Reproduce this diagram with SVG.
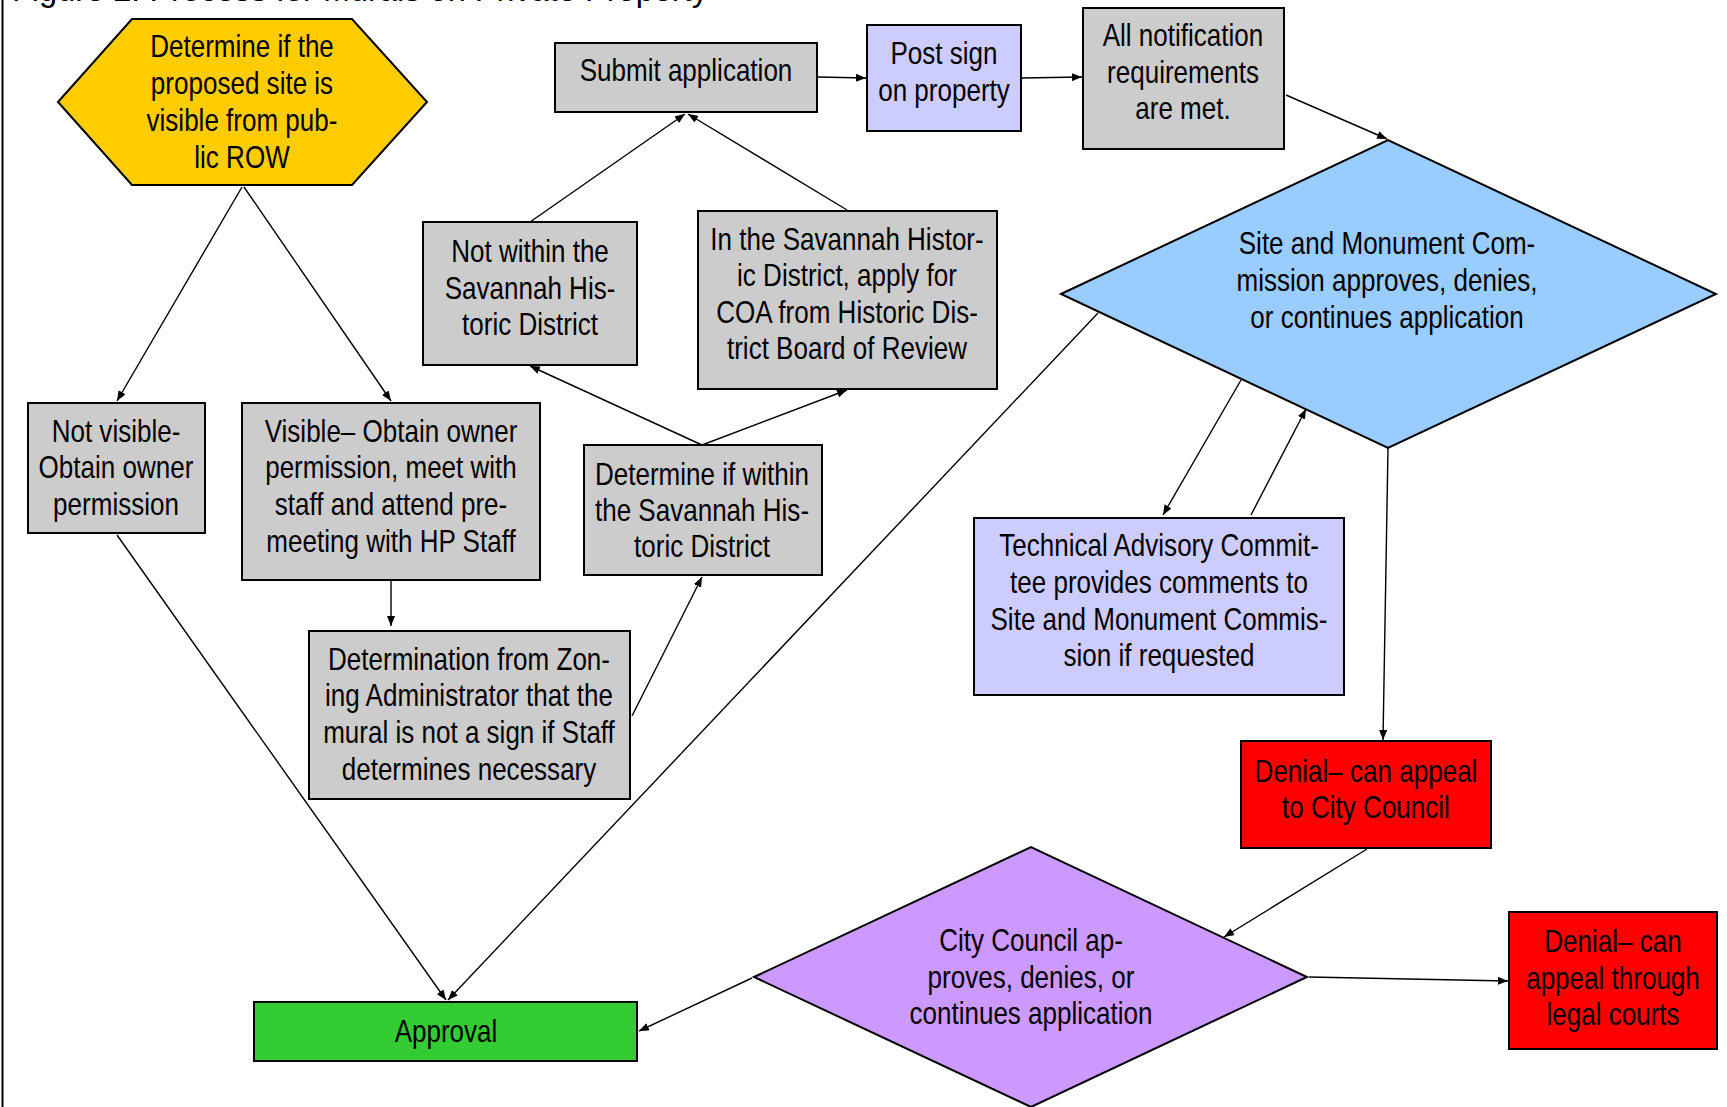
<svg xmlns="http://www.w3.org/2000/svg" width="1727" height="1107" viewBox="0 0 1727 1107">
<style>
.n{stroke:#000;stroke-width:2}
.g{fill:#CCCCCC}
.lv{fill:#CCCCFF}
.t{font-family:"Liberation Sans",Arial,sans-serif;font-size:31px;fill:#000;text-anchor:middle}
.c line{stroke:#000;stroke-width:1.4;marker-end:url(#ah)}
.title{font-family:"Liberation Sans",Arial,sans-serif;font-size:33px;fill:#000}
</style>
<defs>
<marker id="ah" markerUnits="userSpaceOnUse" markerWidth="10" markerHeight="8" refX="10" refY="4" orient="auto">
<path d="M0,0 L10,4 L0,8 z" fill="#000"/>
</marker>
</defs>
<rect width="1727" height="1107" fill="#fff"/>
<line x1="2.5" y1="0" x2="2.5" y2="1107" stroke="#000" stroke-width="2"/>
<text class="title" x="12" y="0.5" textLength="696" lengthAdjust="spacingAndGlyphs">Figure 2: Process for Murals on Private Property</text>

<g class="c" id="connectors">
<line x1="242" y1="187" x2="117" y2="401"/>
<line x1="244" y1="187" x2="391" y2="401"/>
<line x1="391" y1="580" x2="391" y2="626"/>
<line x1="117" y1="535" x2="446" y2="1000"/>
<line x1="632" y1="716" x2="702" y2="577"/>
<line x1="702" y1="445" x2="530" y2="366"/>
<line x1="702" y1="445" x2="847" y2="390"/>
<line x1="530" y1="222" x2="685" y2="114"/>
<line x1="847" y1="210" x2="688" y2="114"/>
<line x1="817" y1="77" x2="866" y2="78"/>
<line x1="1021" y1="78" x2="1082" y2="77"/>
<line x1="1286" y1="95" x2="1387" y2="139"/>
<line x1="1098" y1="313" x2="448" y2="1000"/>
<line x1="1241" y1="380" x2="1163" y2="515"/>
<line x1="1251" y1="515" x2="1306" y2="409"/>
<line x1="1388" y1="448" x2="1383" y2="740"/>
<line x1="1367" y1="849" x2="1224" y2="937"/>
<line x1="752" y1="978" x2="639" y2="1031"/>
<line x1="1309" y1="977" x2="1508" y2="981"/>
</g>

<g id="hex">
<polygon class="n" fill="#FFCC00" points="58,102 132,19 352,19 427,102 352,185 132,185"/>
<text class="t" transform="matrix(0.84 0 0 1 242 0)" x="0" y="57">Determine if the</text>
<text class="t" transform="matrix(0.84 0 0 1 242 0)" x="0" y="94">proposed site is</text>
<text class="t" transform="matrix(0.84 0 0 1 242 0)" x="0" y="131">visible from pub-</text>
<text class="t" transform="matrix(0.84 0 0 1 242 0)" x="0" y="168">lic ROW</text>
</g>

<g id="submit">
<rect class="n g" x="555" y="43" width="262" height="69"/>
<text class="t" transform="matrix(0.84 0 0 1 686 0)" x="0" y="81">Submit application</text>
</g>

<g id="postsign">
<rect class="n lv" x="867" y="25" width="154" height="106"/>
<text class="t" transform="matrix(0.84 0 0 1 944 0)" x="0" y="64">Post sign</text>
<text class="t" transform="matrix(0.84 0 0 1 944 0)" x="0" y="101">on property</text>
</g>

<g id="notif">
<rect class="n g" x="1083" y="8" width="201" height="141"/>
<text class="t" transform="matrix(0.84 0 0 1 1183 0)" x="0" y="46">All notification</text>
<text class="t" transform="matrix(0.84 0 0 1 1183 0)" x="0" y="83">requirements</text>
<text class="t" transform="matrix(0.84 0 0 1 1183 0)" x="0" y="119">are met.</text>
</g>

<g id="smc">
<polygon class="n" fill="#99CCFF" points="1061,294 1388,140 1716,294 1388,448"/>
<text class="t" transform="matrix(0.84 0 0 1 1387 0)" x="0" y="254">Site and Monument Com-</text>
<text class="t" transform="matrix(0.84 0 0 1 1387 0)" x="0" y="291">mission approves, denies,</text>
<text class="t" transform="matrix(0.84 0 0 1 1387 0)" x="0" y="328">or continues application</text>
</g>

<g id="notwithin">
<rect class="n g" x="423" y="222" width="214" height="143"/>
<text class="t" transform="matrix(0.84 0 0 1 530 0)" x="0" y="262">Not within the</text>
<text class="t" transform="matrix(0.84 0 0 1 530 0)" x="0" y="299">Savannah His-</text>
<text class="t" transform="matrix(0.84 0 0 1 530 0)" x="0" y="335">toric District</text>
</g>

<g id="inside">
<rect class="n g" x="698" y="211" width="299" height="178"/>
<text class="t" transform="matrix(0.84 0 0 1 847 0)" x="0" y="250">In the Savannah Histor-</text>
<text class="t" transform="matrix(0.84 0 0 1 847 0)" x="0" y="286">ic District, apply for</text>
<text class="t" transform="matrix(0.84 0 0 1 847 0)" x="0" y="323">COA from Historic Dis-</text>
<text class="t" transform="matrix(0.84 0 0 1 847 0)" x="0" y="359">trict Board of Review</text>
</g>

<g id="notvisible">
<rect class="n g" x="28" y="403" width="177" height="130"/>
<text class="t" transform="matrix(0.84 0 0 1 116 0)" x="0" y="442">Not visible-</text>
<text class="t" transform="matrix(0.84 0 0 1 116 0)" x="0" y="478">Obtain owner</text>
<text class="t" transform="matrix(0.84 0 0 1 116 0)" x="0" y="515">permission</text>
</g>

<g id="visible">
<rect class="n g" x="242" y="403" width="298" height="177"/>
<text class="t" transform="matrix(0.84 0 0 1 391 0)" x="0" y="442">Visible– Obtain owner</text>
<text class="t" transform="matrix(0.84 0 0 1 391 0)" x="0" y="478">permission, meet with</text>
<text class="t" transform="matrix(0.84 0 0 1 391 0)" x="0" y="515">staff and attend pre-</text>
<text class="t" transform="matrix(0.84 0 0 1 391 0)" x="0" y="552">meeting with HP Staff</text>
</g>

<g id="determinewithin">
<rect class="n g" x="584" y="445" width="238" height="130"/>
<text class="t" transform="matrix(0.84 0 0 1 702 0)" x="0" y="485">Determine if within</text>
<text class="t" transform="matrix(0.84 0 0 1 702 0)" x="0" y="521">the Savannah His-</text>
<text class="t" transform="matrix(0.84 0 0 1 702 0)" x="0" y="557">toric District</text>
</g>

<g id="zoning">
<rect class="n g" x="309" y="631" width="321" height="168"/>
<text class="t" transform="matrix(0.84 0 0 1 469 0)" x="0" y="670">Determination from Zon-</text>
<text class="t" transform="matrix(0.84 0 0 1 469 0)" x="0" y="706">ing Administrator that the</text>
<text class="t" transform="matrix(0.84 0 0 1 469 0)" x="0" y="743">mural is not a sign if Staff</text>
<text class="t" transform="matrix(0.84 0 0 1 469 0)" x="0" y="780">determines necessary</text>
</g>

<g id="tac">
<rect class="n lv" x="974" y="518" width="370" height="177"/>
<text class="t" transform="matrix(0.84 0 0 1 1159 0)" x="0" y="556">Technical Advisory Commit-</text>
<text class="t" transform="matrix(0.84 0 0 1 1159 0)" x="0" y="593">tee provides comments to</text>
<text class="t" transform="matrix(0.84 0 0 1 1159 0)" x="0" y="630">Site and Monument Commis-</text>
<text class="t" transform="matrix(0.84 0 0 1 1159 0)" x="0" y="666">sion if requested</text>
</g>

<g id="denial1">
<rect class="n" fill="#FF0000" x="1241" y="741" width="250" height="107"/>
<text class="t" transform="matrix(0.84 0 0 1 1366 0)" x="0" y="782">Denial– can appeal</text>
<text class="t" transform="matrix(0.84 0 0 1 1366 0)" x="0" y="818">to City Council</text>
</g>

<g id="citycouncil">
<polygon class="n" fill="#CC99FF" points="754,977 1031,847 1307,977 1031,1107"/>
<text class="t" transform="matrix(0.84 0 0 1 1031 0)" x="0" y="951">City Council ap-</text>
<text class="t" transform="matrix(0.84 0 0 1 1031 0)" x="0" y="988">proves, denies, or</text>
<text class="t" transform="matrix(0.84 0 0 1 1031 0)" x="0" y="1024">continues application</text>
</g>

<g id="denial2">
<rect class="n" fill="#FF0000" x="1509" y="912" width="208" height="137"/>
<text class="t" transform="matrix(0.84 0 0 1 1613 0)" x="0" y="952">Denial– can</text>
<text class="t" transform="matrix(0.84 0 0 1 1613 0)" x="0" y="989">appeal through</text>
<text class="t" transform="matrix(0.84 0 0 1 1613 0)" x="0" y="1025">legal courts</text>
</g>

<g id="approval">
<rect class="n" fill="#33CC33" x="254" y="1002" width="383" height="59"/>
<text class="t" transform="matrix(0.84 0 0 1 446 0)" x="0" y="1042">Approval</text>
</g>
</svg>
